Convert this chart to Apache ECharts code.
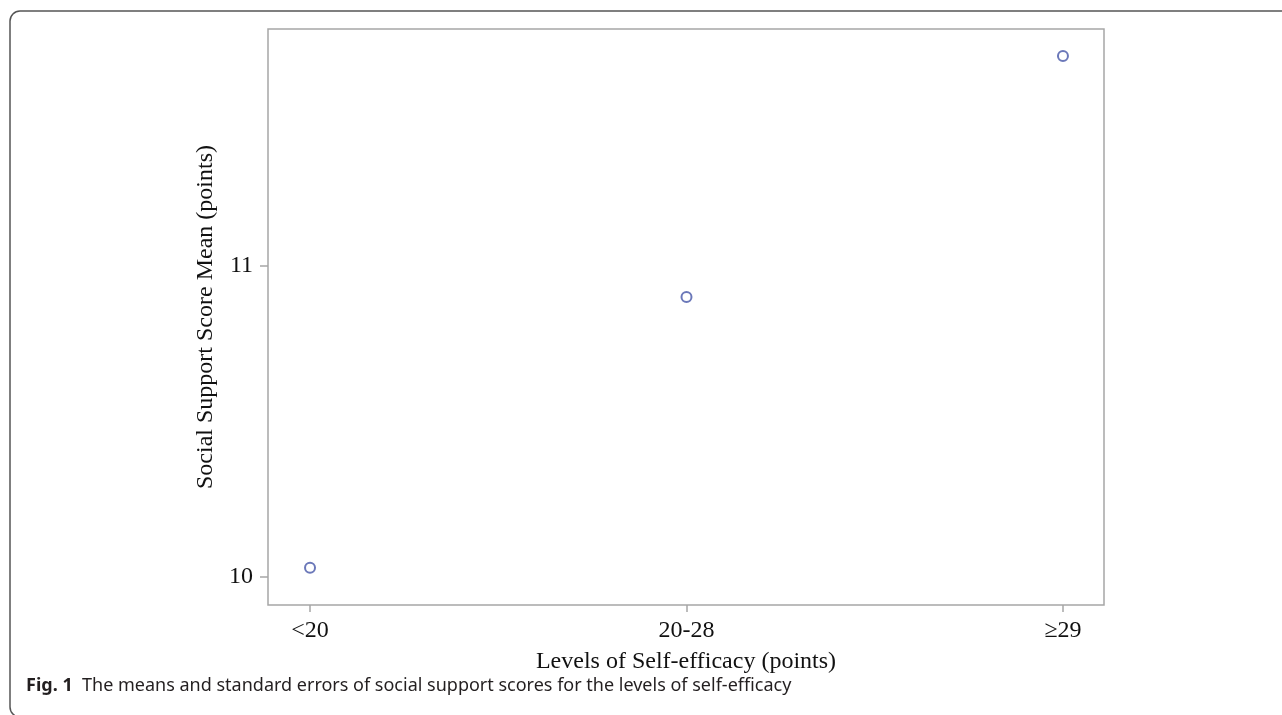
<!DOCTYPE html>
<html>
<head>
<meta charset="utf-8">
<script src="https://cdn.jsdelivr.net/npm/echarts@6/dist/echarts.min.js"></script>
<style>
  html, body { margin: 0; padding: 0; background: #fff; }
  #chart { width: 1282px; height: 715px; }
</style>
</head>
<body>
<div id="chart"></div>
<script>
// levels of self-efficacy and mean social support scores
const levels = ['<20', '20-28', '\u226529'];
const means = [10.03, 10.90, 11.675];
const yTicks = [10, 11];
const xTicks = [0, 1, 2];

const serif = '"Liberation Serif", "DejaVu Serif", serif';
const frameColor = '#a6a6a6';
const dotColor = '#4656a8';

const chart = echarts.init(document.getElementById('chart'));

chart.setOption({
  animation: false,
  grid: {
    left: 268, top: 29, right: 178, bottom: 110,
    show: true, borderColor: frameColor, borderWidth: 1.5,
  },
  xAxis: {
    type: 'value',
    min: -0.1116, max: 2.109,
    name: 'Levels of Self-efficacy (points)',
    nameLocation: 'middle',
    nameGap: 45,
    nameTextStyle: { fontFamily: serif, fontSize: 24, color: '#111' },
    axisLine: { show: false, onZero: false },
    splitLine: { show: false },
    axisTick: { show: true, customValues: xTicks, length: 7, lineStyle: { color: frameColor, width: 1.5 } },
    axisLabel: {
      customValues: xTicks, margin: 14,
      fontFamily: serif, fontSize: 24, color: '#111',
      formatter: v => levels[Math.round(v)],
    },
  },
  yAxis: {
    type: 'value',
    min: 9.91, max: 11.762,
    name: 'Social Support Score Mean (points)',
    nameLocation: 'middle',
    nameGap: 40,
    nameTextStyle: { fontFamily: serif, fontSize: 24, color: '#111' },
    axisLine: { show: false, onZero: false },
    splitLine: { show: false },
    axisTick: { show: true, customValues: yTicks, length: 8, lineStyle: { color: frameColor, width: 1.5 } },
    axisLabel: {
      customValues: yTicks, margin: 15,
      fontFamily: serif, fontSize: 24, color: '#111',
    },
  },
  series: [{
    type: 'scatter',
    data: means.map((m, i) => [i, m]),
    symbol: 'emptyCircle',
    symbolSize: 10,
    itemStyle: { color: dotColor, borderColor: dotColor, borderWidth: 1.9 },
  }],
  graphic: [
    {
      type: 'rect',
      shape: { x: 10, y: 11, width: 1300, height: 706, r: 10 },
      style: { fill: 'none', stroke: '#555', lineWidth: 1.5 },
      silent: true,
    },
    {
      type: 'text', left: 26, top: 677,
      style: {
        text: '{b|Fig. 1}  The means and standard errors of social support scores for the levels of self-efficacy',
        fontFamily: '"Noto Sans", "Open Sans", sans-serif',
        fontSize: 18, fill: '#231f20',
        rich: { b: { fontWeight: 'bold', fontSize: 18, fontFamily: '"Noto Sans", "Open Sans", sans-serif', fill: '#231f20' } },
      },
    },
  ],
});
</script>
</body>
</html>
